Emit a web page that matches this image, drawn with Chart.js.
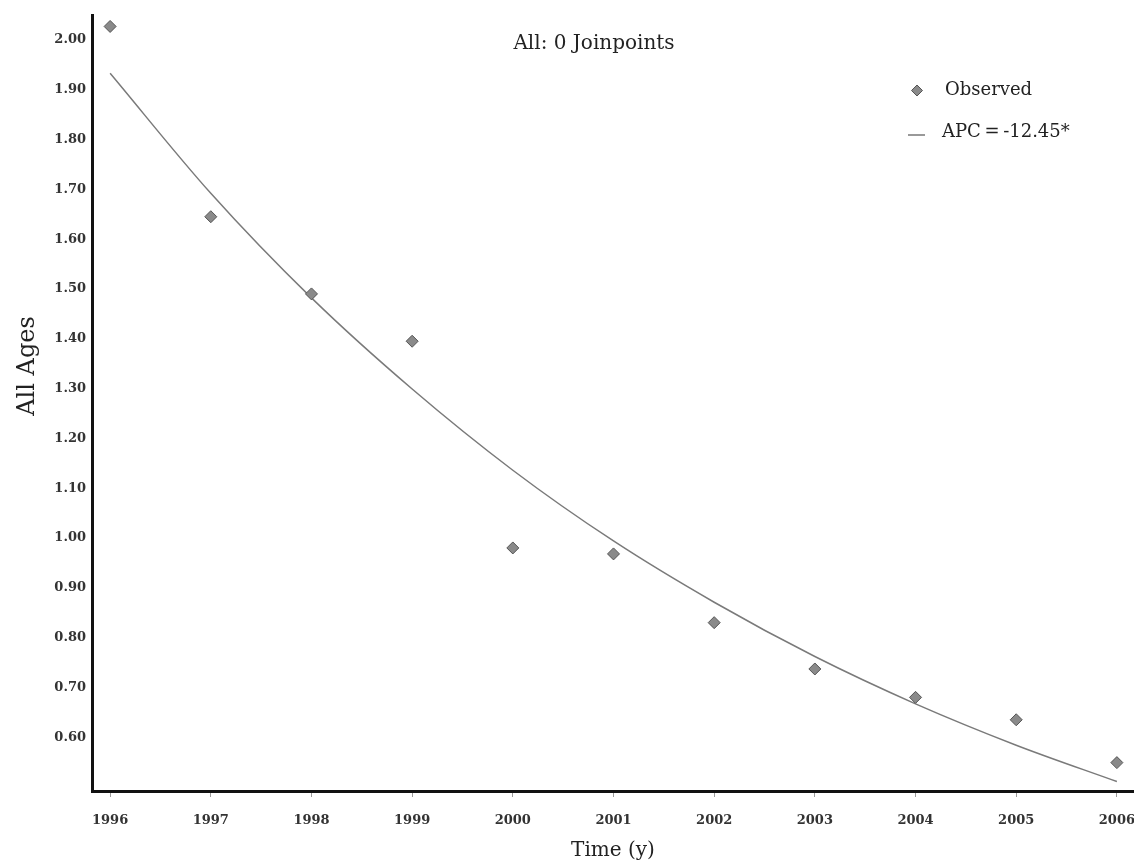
<!DOCTYPE html>
<html>
<head>
<meta charset="utf-8">
<script src="https://cdn.jsdelivr.net/npm/chart.js@4.4.1/dist/chart.umd.min.js"></script>
<style>
  html, body { margin: 0; padding: 0; background: #fff; }
  #wrap { width: 1134px; height: 867px; }
</style>
</head>
<body>
<div id="wrap"><canvas id="apcChart" width="1134" height="867"></canvas></div>
<script>
const years = [1996, 1997, 1998, 1999, 2000, 2001, 2002, 2003, 2004, 2005, 2006];
const observed = [2.027, 1.645, 1.49, 1.395, 0.98, 0.968, 0.83, 0.737, 0.68, 0.635, 0.549];
const fitted = [1.933, 1.692, 1.482, 1.299, 1.136, 0.994, 0.871, 0.762, 0.667, 0.584, 0.511];
const yTicks = [0.6, 0.7, 0.8, 0.9, 1.0, 1.1, 1.2, 1.3, 1.4, 1.5, 1.6, 1.7, 1.8, 1.9, 2.0];

const TITLE = 'All: 0 Joinpoints';
const Y_TITLE = 'All Ages';
const SERIF = "'DejaVu Serif', 'Liberation Serif', serif";

// title, legend and y-axis title sit at fixed spots like in the original figure
const overlay = {
  id: 'overlay',
  afterDraw(chart) {
    const ctx = chart.ctx;
    const ds = chart.data.datasets;
    ctx.save();
    ctx.fillStyle = '#222';
    ctx.textBaseline = 'middle';
    ctx.font = '20px ' + SERIF;
    ctx.textAlign = 'center';
    ctx.fillText(TITLE, 594, 44);

    // y title
    ctx.save();
    ctx.translate(28, 366);
    ctx.rotate(-Math.PI / 2);
    ctx.font = '24px ' + SERIF;
    ctx.fillText(Y_TITLE, 0, 0);
    ctx.restore();

    // legend
    ctx.textAlign = 'left';
    ctx.font = '18px ' + SERIF;
    ctx.fillStyle = '#8a8a8a';
    ctx.strokeStyle = '#555';
    ctx.lineWidth = 1;
    ctx.beginPath();
    ctx.moveTo(917, 85); ctx.lineTo(922.5, 90.5); ctx.lineTo(917, 96); ctx.lineTo(911.5, 90.5);
    ctx.closePath(); ctx.fill(); ctx.stroke();
    ctx.fillStyle = '#222';
    ctx.fillText(ds[0].label, 945, 90);
    ctx.strokeStyle = '#777';
    ctx.lineWidth = 1.5;
    ctx.beginPath();
    ctx.moveTo(908, 135); ctx.lineTo(925, 135); ctx.stroke();
    ctx.fillText(ds[1].label, 942, 132);
    ctx.restore();
  }
};

new Chart(document.getElementById('apcChart').getContext('2d'), {
  type: 'line',
  data: {
    datasets: [
      {
        label: 'Observed',
        data: years.map((y, i) => ({ x: y, y: observed[i] })),
        showLine: false,
        pointStyle: 'rectRot',
        pointRadius: 6,
        pointBackgroundColor: '#8a8a8a',
        pointBorderColor: '#555',
        pointBorderWidth: 1
      },
      {
        label: 'APC\u2009=\u2009-12.45*',
        data: years.map((y, i) => ({ x: y, y: fitted[i] })),
        borderColor: '#7a7a7a',
        borderWidth: 1.5,
        pointRadius: 0,
        cubicInterpolationMode: 'monotone',
        fill: false
      }
    ]
  },
  options: {
    responsive: false,
    animation: false,
    layout: { autoPadding: false, padding: { top: 15, left: 0, right: 0, bottom: 0 } },
    plugins: { legend: { display: false }, tooltip: { enabled: false } },
    scales: {
      x: {
        type: 'linear',
        min: 1995.82,
        max: 2006.17,
        afterBuildTicks: (s) => { s.ticks = years.map(v => ({ value: v })); },
        afterFit: (s) => { s.height = 76; s.paddingLeft = 0; s.paddingRight = 0; },
        border: { display: true, color: '#111', width: 3 },
        grid: { drawOnChartArea: false, drawTicks: true, tickLength: 6, color: '#999', lineWidth: 1 },
        ticks: {
          color: '#333',
          padding: 16,
          maxRotation: 0,
          font: { family: SERIF, size: 13, weight: 'bold' },
          callback: (v) => String(v)
        },
        title: {
          display: true,
          text: 'Time (y)',
          color: '#222',
          font: { family: SERIF, size: 20 },
          padding: { top: 0, bottom: 4 }
        }
      },
      y: {
        min: 0.492,
        max: 2.05,
        afterBuildTicks: (s) => { s.ticks = yTicks.map(v => ({ value: v })); },
        afterFit: (s) => { s.width = 92; },
        border: { display: true, color: '#111', width: 3 },
        grid: { display: false, drawTicks: false },
        ticks: {
          color: '#333',
          padding: 6,
          font: { family: SERIF, size: 13, weight: 'bold' },
          callback: (v) => v.toFixed(2)
        }
      }
    }
  },
  plugins: [overlay]
});
</script>
</body>
</html>
